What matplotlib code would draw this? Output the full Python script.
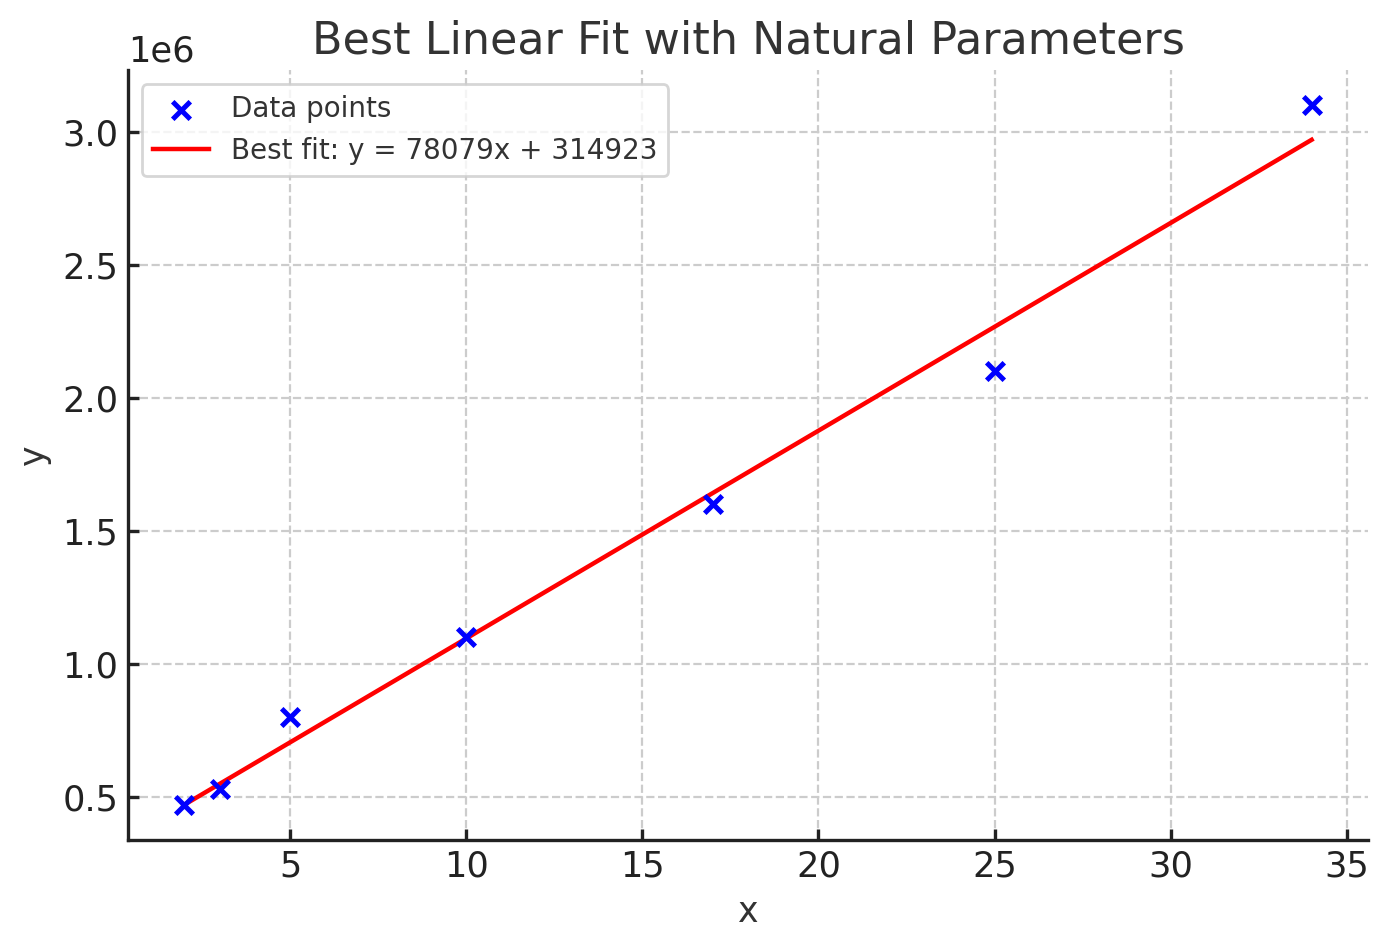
import numpy as np
import matplotlib
matplotlib.use('Agg')
import matplotlib.pyplot as plt

# Datos
x_data = np.array([2, 3, 5, 10, 17, 25, 34], dtype=float)
y_data = np.array([470000, 530000, 800000, 1100000, 1600000, 2100000, 3100000], dtype=float)

# Ajuste lineal
slope, intercept = np.polyfit(x_data, y_data, 1)
x_fit = np.array([x_data.min(), x_data.max()])
y_fit = slope * x_fit + intercept

plt.rcParams['text.color'] = '#333333'
plt.rcParams['axes.labelcolor'] = '#333333'
plt.rcParams['xtick.color'] = '#222222'
plt.rcParams['ytick.color'] = '#222222'

fig, ax = plt.subplots(figsize=(6.935, 4.735), dpi=200)
ax.scatter(x_data, y_data, marker='x', color='blue', s=40, linewidths=1.8, label='Data points', zorder=3)
ax.plot(x_fit, y_fit, color='red', linewidth=1.6, label=f'Best fit: y = {slope:.0f}x + {intercept:.0f}')

ax.set_title('Best Linear Fit with Natural Parameters', fontsize=16)
ax.set_xlabel('x', fontsize=12.5)
ax.set_ylabel('y', fontsize=12.5)
ax.tick_params(direction='in', labelsize=12.7, width=1.2, length=4)
ax.yaxis.get_offset_text().set_fontsize(12.7)
ax.grid(True, linestyle='--', color='#cccccc', linewidth=0.8)
for s in ['top', 'right']:
    ax.spines[s].set_visible(False)
for s in ['left', 'bottom']:
    ax.spines[s].set_linewidth(1.2)
    ax.spines[s].set_color('#222222')
ax.legend(loc='upper left', fontsize=10)

plt.subplots_adjust(left=0.0923, right=0.9863, top=0.926, bottom=0.113)
plt.savefig('out.png', dpi=200)
